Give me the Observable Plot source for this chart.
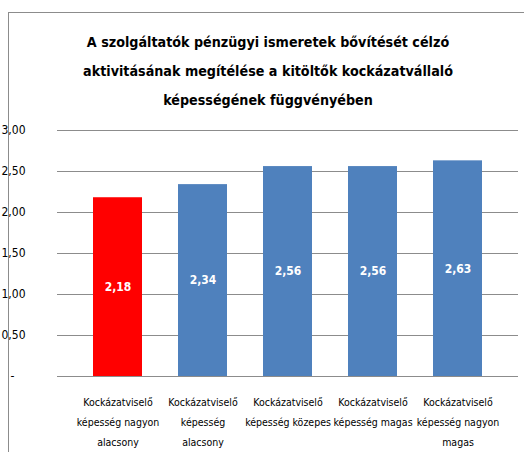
<!DOCTYPE html>
<html>
<head>
<meta charset="utf-8">
<script src="https://cdn.jsdelivr.net/npm/d3@7"></script>
<script src="https://cdn.jsdelivr.net/npm/@observablehq/plot@0.6"></script>
<style>
  html, body { margin: 0; padding: 0; background: #fff; }
  #wrap { position: relative; width: 524px; height: 452px; overflow: hidden; font-family: "DejaVu Sans Condensed", "DejaVu Sans", sans-serif; font-stretch: condensed; }
  #frame { position: absolute; left: 8px; top: 12px; width: 530px; height: 460px; border-left: 1px solid #8c8c8c; border-top: 1px solid #8c8c8c; }
  #title { position: absolute; left: 8px; width: 520px; top: 28px; text-align: center; font-weight: bold; font-size: 14.2px; line-height: 29px; color: #000; }
  #chart { position: absolute; left: 0; top: 115px; }
  #chart svg text { font-stretch: condensed; }
</style>
</head>
<body>
<div id="wrap">
  <div id="frame"></div>
  <div id="title">A szolgáltatók pénzügyi ismeretek bővítését célzó<br>aktivitásának megítélése a kitöltők kockázatvállaló<br>képességének függvényében</div>
  <div id="chart"></div>
</div>
<script>
const categories = [
  "Kockázatviselő\nképesség nagyon\nalacsony",
  "Kockázatviselő\nképesség\nalacsony",
  "Kockázatviselő\nképesség közepes",
  "Kockázatviselő\nképesség magas",
  "Kockázatviselő\nképesség nagyon\nmagas"
];
const values = [2.18, 2.34, 2.56, 2.56, 2.63];
const barColors = ["#ff0000", "#4f81bd", "#4f81bd", "#4f81bd", "#4f81bd"];
const yTicks = [0, 0.5, 1, 1.5, 2, 2.5, 3];

const data = categories.map((c, i) => ({cat: c, value: values[i], color: barColors[i]}));
const fmt = v => v.toFixed(2).replace(".", ",");
const ff = '"DejaVu Sans Condensed", "DejaVu Sans", sans-serif';

const chart = Plot.plot({
  width: 524,
  height: 337,
  marginTop: 15,
  marginBottom: 76,
  marginLeft: 57,
  marginRight: 6,
  style: {fontFamily: ff, background: "transparent"},
  x: {domain: categories, padding: 0.42, label: null},
  y: {domain: [0, 3], ticks: yTicks, label: null},
  marks: [
    Plot.gridY(yTicks, {stroke: "#8c8c8c", strokeOpacity: 1, strokeWidth: 1}),
    Plot.barY(data, {x: "cat", y: "value", fill: "color"}),
    Plot.text(data, {x: "cat", y: d => d.value / 2, text: d => fmt(d.value), fill: "white", fontWeight: "bold", fontSize: 12}),
    Plot.axisY(yTicks, {tickSize: 0, textAnchor: "start", dx: -47, fontSize: 12, fill: "#000",
      tickFormat: d => d === 0 ? "\u2007\u2009-" : fmt(d)}),
    Plot.axisX({tickSize: 0, tickPadding: 15, fontSize: 10.5, lineHeight: 1.9, fill: "#000", label: null})
  ]
});
document.getElementById("chart").appendChild(chart);
</script>
</body>
</html>
